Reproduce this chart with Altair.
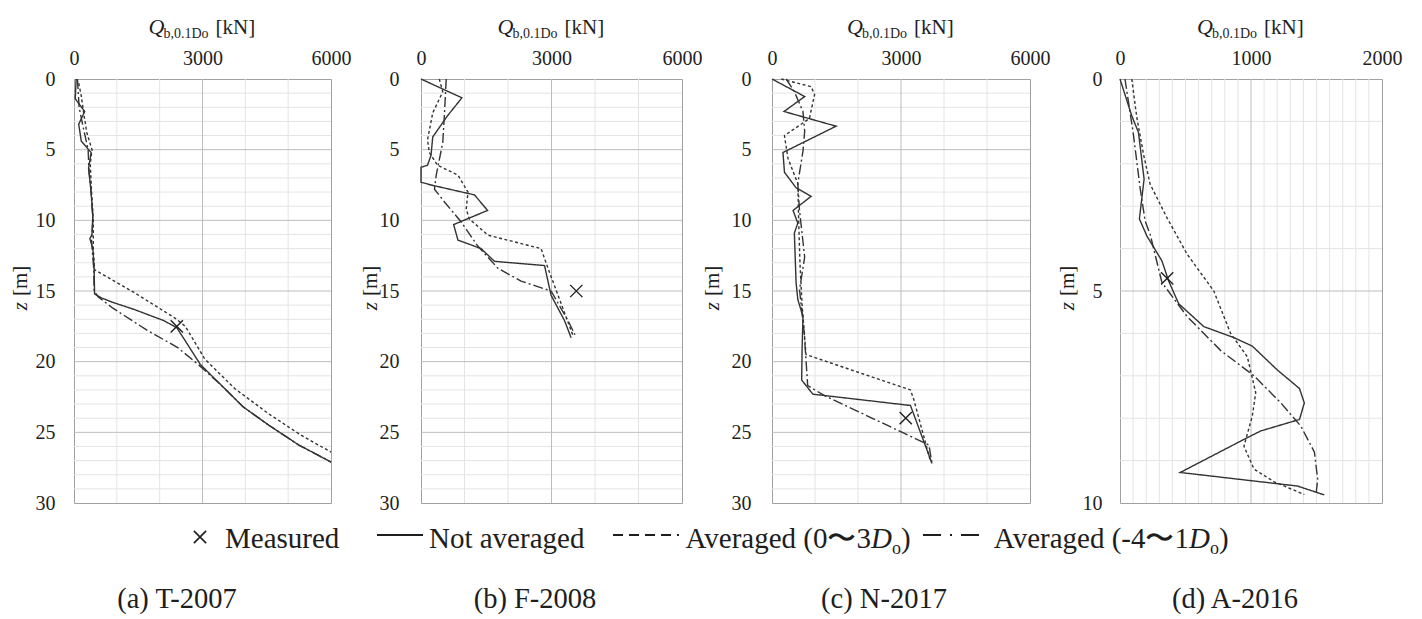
import altair as alt
import pandas as pd

SERIF = "Liberation Serif"
INK = "#1e1e1e"
LINE = "#333333"
MAJOR = "#bdbdbd"
MINOR = "#e4e4e4"
FRAME = "#a0a0a0"
CROSS = "M-1,-1L1,1M-1,1L1,-1"

SERIES = ["Not averaged", "Averaged (0-3Do)", "Averaged (-4-1Do)"]
DASHES = [[1, 0], [3, 2.5], [10, 3, 2, 3]]

# ---- (a) T-2007 ----
a_not_z = [0, 1.4, 2.3, 3.2, 4.4, 5.2, 6.3, 7.7, 9.6, 11.0, 11.3, 12.0, 13.4, 15.2, 15.5, 15.8, 16.3,
           17.1, 17.6, 18.3, 20.2, 21.7, 23.2, 24.5, 25.9, 27.1]
a_not_q = [50, 30, 250, 110, 170, 400, 340, 390, 440, 420, 370, 440, 470, 480, 650, 900, 1400,
           2100, 2400, 2550, 2950, 3450, 3950, 4550, 5250, 6000]
a_avg03_z = [0.3, 1.2, 2.5, 3.8, 5.0, 6.0, 8.0, 10.0, 12.0, 13.5, 15.1, 16.9, 17.5, 19.8, 21.9, 23.7, 25.2, 26.4]
a_avg03_q = [110, 170, 230, 300, 420, 380, 410, 450, 450, 480, 1400, 2350, 2600, 3050, 3750, 4550, 5300, 6000]
a_avg41_z = [0, 2.0, 3.5, 5.0, 6.5, 8.0, 10.0, 11.5, 13.4, 15.0, 15.4, 16.2, 17.8, 19.0, 20.2, 21.7,
             23.2, 24.5, 25.9, 27.1]
a_avg41_q = [80, 120, 220, 330, 350, 400, 440, 410, 460, 470, 560, 900, 1720, 2420, 2900, 3450,
             3950, 4550, 5250, 6000]
a_meas = (2400, 17.5)

# ---- (b) F-2008 ----
b_not_z = [0, 1.33, 2.6, 4.1, 5.4, 6.1, 6.25, 7.3, 7.5, 8.2, 9.3, 10.3, 11.4, 12.0, 12.9, 13.2, 15.3, 17.1, 18.3]
b_not_q = [0, 940, 610, 270, 230, 150, 0, 0, 230, 1230, 1530, 750, 850, 1380, 1690, 2840, 2990, 3300, 3450]
b_avg03_z = [0, 0.9, 2.4, 4.3, 5.2, 6.1, 6.8, 8.0, 9.2, 9.9, 11.05, 12.0, 13.4, 15.3, 18.2]
b_avg03_q = [420, 500, 270, 150, 190, 380, 850, 1080, 1040, 1110, 1540, 2760, 2920, 3150, 3500]
b_avg41_z = [0, 2.4, 4.5, 6.8, 7.8, 8.7, 10.1, 11.8, 13.4, 14.3, 15.0, 17.1, 18.1]
b_avg41_q = [580, 540, 500, 350, 310, 540, 920, 1300, 1770, 2300, 2990, 3380, 3540]
b_meas = (3570, 15.0)

# ---- (c) N-2017 ----
c_not_z = [0, 1.24, 2.3, 3.34, 5.2, 6.6, 7.7, 8.3, 9.3, 10.2, 10.9, 14.4, 15.6, 16.8, 19.1, 21.3, 22.3, 23.1, 27.2]
c_not_q = [0, 760, 280, 1490, 255, 290, 560, 910, 490, 600, 520, 560, 600, 720, 700, 690, 950, 3220, 3720]
c_avg03_z = [0, 0.54, 1.1, 2.8, 4.0, 5.6, 7.4, 10, 13, 16, 19.5, 22.0, 22.7, 27.1]
c_avg03_q = [216, 910, 990, 870, 290, 370, 600, 620, 650, 700, 790, 3220, 3300, 3690]
c_avg41_z = [0, 0.9, 2.3, 3.7, 5.1, 7.4, 9.3, 12.6, 14.9, 18, 21.7, 22.4, 25.9, 27.2]
c_avg41_q = [330, 520, 720, 760, 720, 600, 640, 760, 640, 750, 830, 1220, 3650, 3720]
c_meas = (3110, 24.0)

# ---- (d) A-2016 ----
d_not_z = [0, 0.87, 1.26, 2.36, 3.3, 3.7, 4.29, 4.76, 5.3, 5.84, 6.1, 6.3, 6.86, 7.3, 7.64, 8.03,
           8.3, 8.5, 9.28, 9.6, 9.81]
d_not_q = [0, 90, 141, 184, 148, 205, 320, 371, 448, 640, 870, 1010, 1200, 1370, 1407, 1370,
           1075, 946, 460, 1355, 1560]
d_avg03_z = [0, 0.9, 1.77, 2.48, 3.27, 4.13, 5.0, 6.0, 6.55, 7.4, 7.95, 8.66, 9.2, 9.5, 9.8]
d_avg03_q = [90, 128, 179, 230, 358, 512, 716, 844, 972, 1036, 1010, 946, 1023, 1177, 1407]
d_avg41_z = [0, 1.3, 2.56, 3.35, 3.66, 4.8, 5.6, 6.4, 7.0, 7.64, 8.19, 8.8, 9.44, 9.81]
d_avg41_q = [38, 102, 153, 192, 230, 320, 512, 767, 1023, 1228, 1381, 1484, 1509, 1496]
d_meas = (360, 4.7)

CAPTIONS = ["(a) T-2007", "(b) F-2008", "(c) N-2017", "(d) A-2016"]
LEGEND_LABELS = ["Measured", "Not averaged", "Averaged (0\u301c3", "Averaged (-4\u301c1"]

# layout (pixels)
HEIGHT = 424
PANEL_WIDTHS = [257, 261, 258, 262]
SPACING = 90
LEFT, TOP = 73, 78
ORIGINS = []
_x = LEFT
for _w in PANEL_WIDTHS:
    ORIGINS.append(_x)
    _x += _w + SPACING
CAPTION_CX = [176, 534, 883, 1234]
YTITLE_CX = [20, 370, 712, 1067]
YLABEL_PAD = [19, 22, 21, 18]
TICK_SIZE = 20
LEGEND_SIZE = 29


def piece(txt, x, y, size, style="normal", align="left", angle=0, baseline="alphabetic"):
    return alt.Chart(pd.DataFrame({"t": [txt]})).mark_text(
        align=align, baseline=baseline, font=SERIF, fontSize=size, fontStyle=style,
        angle=angle, color=INK,
    ).encode(x=alt.value(x), y=alt.value(y), text="t:N")


def seg(x1, x2, y, dash, width=2.0):
    return alt.Chart(pd.DataFrame({"k": [0]})).mark_rule(
        color=INK, strokeWidth=width, strokeDash=dash
    ).encode(x=alt.value(x1), x2=alt.value(x2), y=alt.value(y), y2=alt.value(y))


def panel(idx, curves, meas, q_max, q_step, z_max):
    width = PANEL_WIDTHS[idx]
    ox = ORIGINS[idx]
    rows = []
    for name, (zs, qs) in zip(SERIES, curves):
        for i, (z, q) in enumerate(zip(zs, qs)):
            rows.append({"s": name, "z": z, "q": q, "i": i})
    df = pd.DataFrame(rows)

    xs = alt.Scale(domain=[0, q_max], nice=False, zero=False)
    ys = alt.Scale(domain=[0, z_max], reverse=True, nice=False, zero=False)
    xaxis = alt.Axis(orient="top", values=[0, q_max // 2, q_max], format="d", title=None,
                     grid=False, ticks=False, domain=False, labelFont=SERIF, labelFontSize=TICK_SIZE,
                     labelColor=INK, labelPadding=11, labelFlush=False, labelOverlap=False)
    yaxis = alt.Axis(values=list(range(0, z_max + 1, 5)), title=None, grid=False, ticks=False,
                     domain=False, labelFont=SERIF, labelFontSize=TICK_SIZE, labelColor=INK,
                     labelPadding=YLABEL_PAD[idx], labelFlush=False, labelOverlap=False)

    def X(f):
        return alt.X(f, scale=xs, axis=xaxis)

    def Y(f):
        return alt.Y(f, scale=ys, axis=yaxis)

    q_minor = [v for v in range(q_step, q_max, q_step) if v != q_max // 2]
    z_minor = [v for v in range(1, z_max) if v % 5]
    z_major = [v for v in range(5, z_max, 5)]

    layers = [
        alt.Chart(pd.DataFrame({"v": q_minor})).mark_rule(color=MINOR, strokeWidth=1).encode(x=X("v:Q")),
        alt.Chart(pd.DataFrame({"v": z_minor})).mark_rule(color=MINOR, strokeWidth=1).encode(y=Y("v:Q")),
        alt.Chart(pd.DataFrame({"v": [q_max // 2]})).mark_rule(color=MAJOR, strokeWidth=1).encode(x=X("v:Q")),
        alt.Chart(pd.DataFrame({"v": z_major})).mark_rule(color=MAJOR, strokeWidth=1).encode(y=Y("v:Q")),
        alt.Chart(df).mark_line(color=LINE, strokeWidth=1.4).encode(
            x=X("q:Q"), y=Y("z:Q"),
            strokeDash=alt.StrokeDash("s:N", scale=alt.Scale(domain=SERIES, range=DASHES), legend=None),
            order=alt.Order("i:Q"),
        ),
        alt.Chart(pd.DataFrame({"q": [meas[0]], "z": [meas[1]]})).mark_point(
            shape=CROSS, size=150, strokeWidth=1.4, color=INK, filled=False, opacity=1
        ).encode(x=X("q:Q"), y=Y("z:Q")),
    ]

    # top axis title: Q_{b,0.1Do} [kN]
    cx = width / 2
    layers += [
        piece("Q", cx - 38, -45, 22, style="italic", align="right"),
        piece("b,0.1Do", cx - 39, -41, 14),
        piece("[kN]", cx + 13, -45, 21),
    ]
    # left axis title: z [m]
    ytx = YTITLE_CX[idx] - ox
    mid = HEIGHT / 2 + 8
    layers += [
        piece("z", ytx, mid + 3, 21, style="italic", align="right", angle=270, baseline="middle"),
        piece("[m]", ytx, mid - 3, 21, align="left", angle=270, baseline="middle"),
    ]
    # panel caption
    layers.append(
        alt.Chart(pd.DataFrame({"t": [CAPTIONS[idx]]})).mark_text(
            align="center", baseline="alphabetic", font=SERIF, fontSize=28.5, color=INK
        ).encode(x=alt.value(CAPTION_CX[idx] - ox), y=alt.value(607 - TOP), text="t:N")
    )
    return layers


def legend_layers():
    ox, oy = ORIGINS[0], TOP
    base = 547 - oy
    mid = 534 - oy
    return [
        alt.Chart(pd.DataFrame({"k": [0]})).mark_point(
            shape=CROSS, size=150, strokeWidth=1.6, color=INK, filled=False, opacity=1
        ).encode(x=alt.value(199 - ox), y=alt.value(mid + 2)),
        piece(LEGEND_LABELS[0], 224 - ox, base, LEGEND_SIZE),
        seg(376 - ox, 422 - ox, mid, [1, 0]),
        piece(LEGEND_LABELS[1], 428 - ox, base, LEGEND_SIZE),
        seg(612 - ox, 678 - ox, mid, [10, 6]),
        piece(LEGEND_LABELS[2], 870 - ox, base, LEGEND_SIZE, align="right"),
        piece("D", 870 - ox, base, LEGEND_SIZE, style="italic"),
        piece("o", 891 - ox, base + 6, 18),
        piece(")", 900 - ox, base, LEGEND_SIZE),
        seg(922 - ox, 981 - ox, mid, [18, 9, 2, 9]),
        piece(LEGEND_LABELS[3], 1188 - ox, base, LEGEND_SIZE, align="right"),
        piece("D", 1188 - ox, base, LEGEND_SIZE, style="italic"),
        piece("o", 1209 - ox, base + 6, 18),
        piece(")", 1218 - ox, base, LEGEND_SIZE),
        # invisible corner that pins the page origin
        alt.Chart(pd.DataFrame({"k": [0]})).mark_rule(strokeOpacity=0, color="white").encode(
            x=alt.value(-LEFT), x2=alt.value(-LEFT + 1), y=alt.value(-TOP), y2=alt.value(-TOP + 1)
        ),
    ]


specs = [
    (0, [(a_not_z, a_not_q), (a_avg03_z, a_avg03_q), (a_avg41_z, a_avg41_q)], a_meas, 6000, 1000, 30),
    (1, [(b_not_z, b_not_q), (b_avg03_z, b_avg03_q), (b_avg41_z, b_avg41_q)], b_meas, 6000, 1000, 30),
    (2, [(c_not_z, c_not_q), (c_avg03_z, c_avg03_q), (c_avg41_z, c_avg41_q)], c_meas, 6000, 1000, 30),
    (3, [(d_not_z, d_not_q), (d_avg03_z, d_avg03_q), (d_avg41_z, d_avg41_q)], d_meas, 2000, 100, 10),
]

panels = []
for idx, curves, meas, q_max, q_step, z_max in specs:
    layers = panel(idx, curves, meas, q_max, q_step, z_max)
    if idx == 0:
        layers += legend_layers()
    panels.append(alt.layer(*layers).properties(width=PANEL_WIDTHS[idx], height=HEIGHT))

chart = alt.hconcat(*panels, spacing=SPACING, bounds="flush").properties(
    padding=0, background="white"
).configure_view(stroke=FRAME, strokeWidth=1)

chart.save("out.html", embed_options={"renderer": "svg", "actions": False})
